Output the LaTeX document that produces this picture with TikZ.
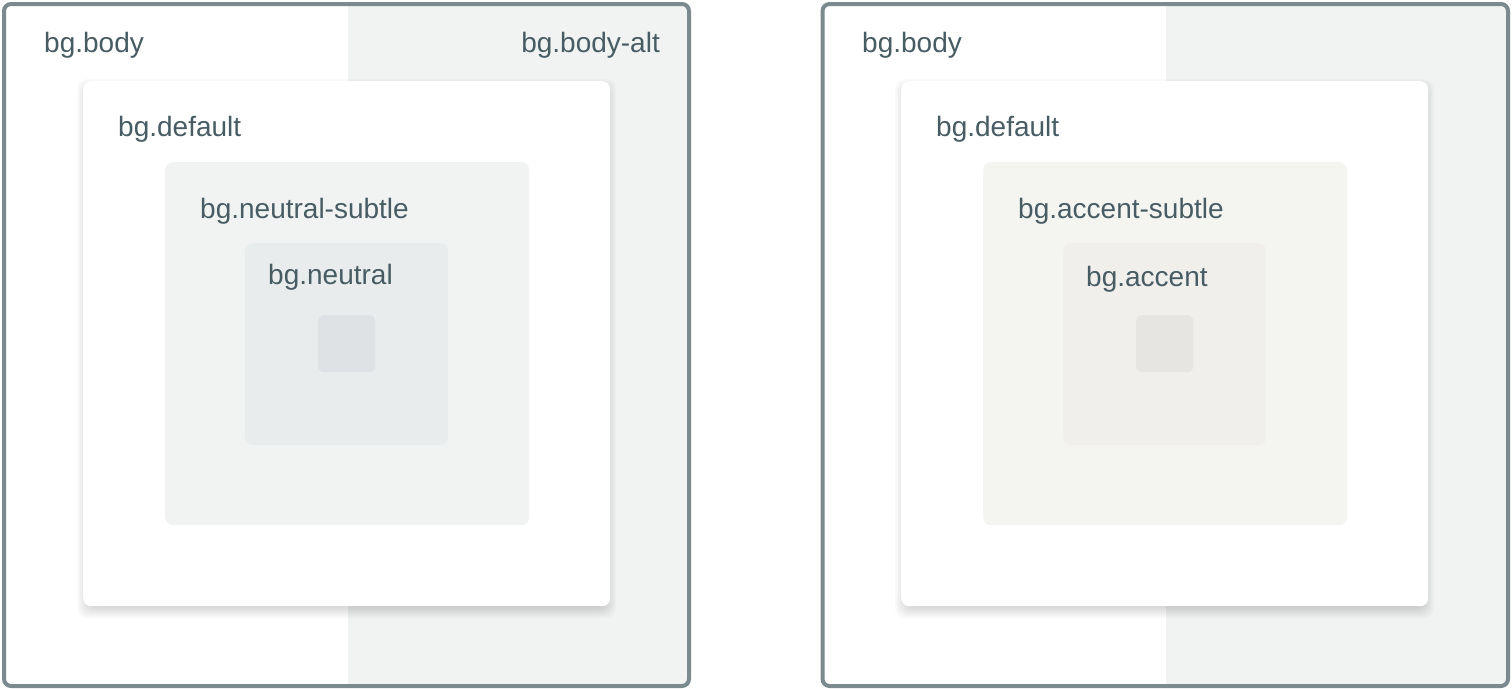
\documentclass[tikz,border=0pt]{standalone}
\usepackage{fontspec}
\setmainfont{Liberation Sans}
\definecolor{frameline}{HTML}{7A8A8E}
\definecolor{bodyalt}{HTML}{F1F3F2}
\definecolor{txt}{HTML}{475C63}
\definecolor{nsubtle}{HTML}{F1F3F3}
\definecolor{nmain}{HTML}{E9ECED}
\definecolor{nsmall}{HTML}{DEE2E4}
\definecolor{asubtle}{HTML}{F4F4F1}
\definecolor{amain}{HTML}{F0EFEC}
\definecolor{asmall}{HTML}{E6E5E1}
\tikzset{
  framebox/.style={draw=frameline, line width=4pt, rounded corners=7pt},
  card/.style={fill=white, rounded corners=8pt, draw=none, inner sep=0pt},
  panel/.style={rounded corners=8pt, draw=none, inner sep=0pt, anchor=north west},
  shadowlayer/.style={fill=black, fill opacity=0.018, rounded corners=10pt},
  lbl/.style={text=txt, font=\fontsize{28}{32}\selectfont, inner sep=0pt}
}
\begin{document}
\begin{tikzpicture}[x=1pt,y=-1pt]
\useasboundingbox (0,0) rectangle (1512,688);
% left frame
\begin{scope}
\clip[rounded corners=7pt] (4,4) rectangle (689,686);
\fill[white] (4,4) rectangle (348,686);
\fill[bodyalt] (348,4) rectangle (689,686);
\end{scope}
\draw[framebox] (4,4) rectangle (689,686);
% right frame
\begin{scope}
\clip[rounded corners=7pt] (822.5,4) rectangle (1508,686);
\fill[white] (822.5,4) rectangle (1166,686);
\fill[bodyalt] (1166,4) rectangle (1508,686);
\end{scope}
\draw[framebox] (822.5,4) rectangle (1508,686);
% card shadows
\foreach \ox in {83,901}{
  \foreach \d in {0,1.5,...,12}{
    \fill[shadowlayer] (\ox+\d-6,81+\d-2) rectangle (\ox+527-\d+6,606-\d+12);
  }
}
% left nested
\node[panel, card, minimum width=527pt, minimum height=525pt] (cardL) at (83,81) {};
\node[panel, fill=nsubtle, minimum width=364pt, minimum height=363pt] (subL) at (165,162) {};
\node[panel, fill=nmain, minimum width=203pt, minimum height=202pt] (mainL) at (245,243) {};
\node[panel, fill=nsmall, rounded corners=6pt, minimum width=57pt, minimum height=57pt] (smallL) at (318,315) {};
% right nested
\node[panel, card, minimum width=527pt, minimum height=525pt] (cardR) at (901,81) {};
\node[panel, fill=asubtle, minimum width=364pt, minimum height=363pt] (subR) at (983,162) {};
\node[panel, fill=amain, minimum width=203pt, minimum height=202pt] (mainR) at (1063,243) {};
\node[panel, fill=asmall, rounded corners=6pt, minimum width=57pt, minimum height=57pt] (smallR) at (1136,315) {};
% labels
\node[lbl, anchor=base west] (tBodyL) at (44,52) {bg.body};
\node[lbl, anchor=base east] (tAlt) at (660,52) {bg.body-alt};
\node[lbl, anchor=base west] (tDefL) at (118,136) {bg.default};
\node[lbl, anchor=base west] (tNS) at (200,218) {bg.neutral-subtle};
\node[lbl, anchor=base west] (tN) at (268,284) {bg.neutral};
\node[lbl, anchor=base west] (tBodyR) at (862,52) {bg.body};
\node[lbl, anchor=base west] (tDefR) at (936,136) {bg.default};
\node[lbl, anchor=base west] (tAS) at (1018,218) {bg.accent-subtle};
\node[lbl, anchor=base west] (tA) at (1086,286) {bg.accent};
\end{tikzpicture}
\end{document}
